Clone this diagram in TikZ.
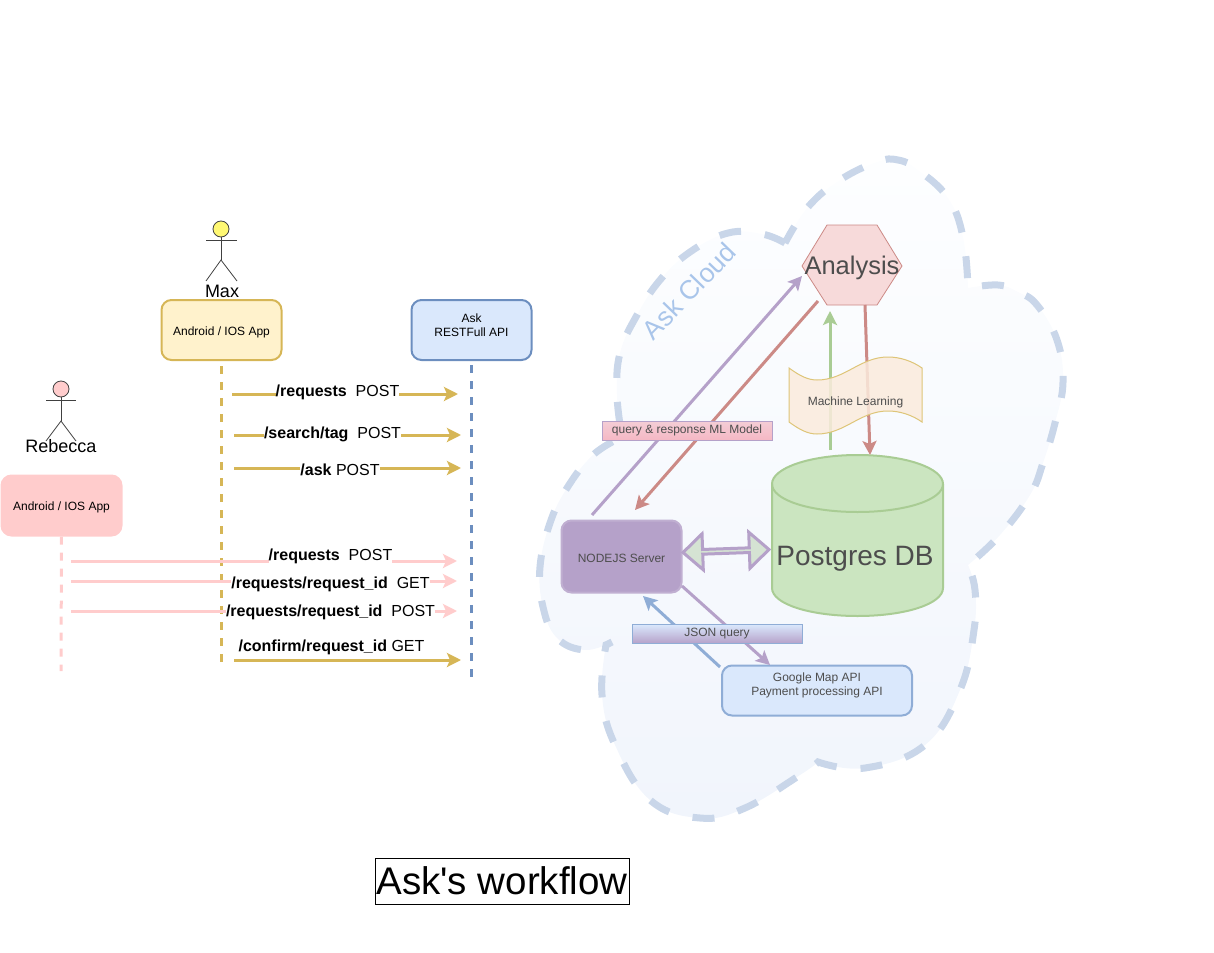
\documentclass[tikz,border=0pt]{standalone}
\usepackage{fontspec}
\setmainfont{Liberation Sans}
\usetikzlibrary{arrows.meta, shapes, positioning, calc}
\definecolor{goldline}{HTML}{D6B656}
\definecolor{goldfill}{HTML}{FFF2CC}
\definecolor{blueline}{HTML}{6C8EBF}
\definecolor{bluefill}{HTML}{DAE8FC}
\definecolor{pinkline}{HTML}{FFCCCC}
\definecolor{purpleline}{HTML}{B5A1C9}
\definecolor{redline}{HTML}{CC8A86}
\definecolor{greenline}{HTML}{A9CC94}
\definecolor{softblue}{HTML}{8FADD6}
\definecolor{cloudline}{HTML}{C9D6E9}
\definecolor{cloudtext}{HTML}{A9C5EA}
\definecolor{cloudtop}{HTML}{FDFEFF}
\definecolor{cloudbottom}{HTML}{F1F5FC}
\definecolor{greytext}{HTML}{4D4D4D}
\definecolor{dbfill}{HTML}{CBE5C0}
\definecolor{hexfill}{HTML}{F7DADA}
\definecolor{linkfill}{HTML}{D5E3D3}
\definecolor{wavefill}{HTML}{FBEBDC}
\definecolor{querytop}{HTML}{F4CDD6}
\definecolor{querybottom}{HTML}{F5B8C4}
\newcommand{\px}[1]{\fontsize{#1}{#1}\selectfont\setlength{\baselineskip}{1.17\baselineskip}}
\tikzset{
    appbox/.style={draw, rounded corners=10, line width=2, minimum width=120, minimum height=60, align=center, text height=13, font=\px{12}},
    lifeline/.style={line width=3, dash pattern=on 8 off 8},
    msg/.style={->, line width=3},
    msgtext/.style={fill=white, inner sep=0, font=\px{16}},
    flow/.style={->, line width=3},
    actor/.style={line width=0.8, draw=black!75},
    tag/.style={draw, line width=1, minimum width=170, minimum height=19, inner sep=0, font=\px{12}, text=greytext}
}
\begin{document}
\begin{tikzpicture}[x=1pt, y=-1pt, >={Stealth[length=14pt,width=14pt,inset=3pt]}]
    \useasboundingbox (0,0) rectangle (1214,952);

    % Draw the cloud behind everything
    \draw[line width=7, draw=cloudline, dash pattern=on 22 off 24, top color=cloudtop, bottom color=cloudbottom]
        plot[smooth, tension=0.7] coordinates {(785,243) (762,234) (728,233) (690,252) (660,280) (637,315) (620,353) (617,395) (622,437)}
        -- plot[smooth, tension=0.7] coordinates {(622,437) (593,455) (567,488) (550,523) (540,567) (543,607) (557,638) (585,650) (612,642)}
        -- plot[smooth, tension=0.7] coordinates {(606,645) (602,695) (615,745) (650,800) (700,818) (745,808) (800,775) (818,762)}
        -- plot[smooth, tension=0.7] coordinates {(818,762) (865,768) (925,745) (960,690) (974,630) (975,590) (968,565)}
        -- plot[smooth, tension=0.7] coordinates {(968,565) (1000,535) (1030,495) (1043,463) (1055,423) (1063,382) (1057,340) (1037,305) (1018,292) (998,285) (968,288)}
        -- plot[smooth, tension=0.7] coordinates {(968,288) (963,237) (948,198) (918,170) (898,160) (877,162) (840,180) (808,207) (785,243)}
        -- cycle;
    \node[rotate=46, text=cloudtext, font=\px{26.5}] (askcloud) at (689,291) {Ask Cloud};

    % Actors
    \node[circle, draw=black!75, line width=0.8, fill=yellow!55, minimum size=16, inner sep=0] (maxhead) at (221,229) {};
    \coordinate (maxhip) at (221,260);
    \coordinate (maxarml) at (206,240);
    \coordinate (maxarmr) at (237,240);
    \coordinate (maxfootl) at (206,281);
    \coordinate (maxfootr) at (237,281);
    \draw[actor] (maxhead) -- (maxhip);
    \draw[actor] (maxarml) -- (maxarmr);
    \draw[actor] (maxfootl) -- (maxhip) -- (maxfootr);
    \node[font=\px{18}, inner sep=0] (maxname) at (222,291) {Max};

    \node[circle, draw=black!75, line width=0.8, fill=pinkline, minimum size=16, inner sep=0] (rebeccahead) at (61,389) {};
    \coordinate (rebeccahip) at (61,421);
    \coordinate (rebeccaarml) at (46,400);
    \coordinate (rebeccaarmr) at (76,400);
    \coordinate (rebeccafootl) at (46,441);
    \coordinate (rebeccafootr) at (76,441);
    \draw[actor] (rebeccahead) -- (rebeccahip);
    \draw[actor] (rebeccaarml) -- (rebeccaarmr);
    \draw[actor] (rebeccafootl) -- (rebeccahip) -- (rebeccafootr);
    \node[font=\px{18}, inner sep=0] (rebeccaname) at (61,446) {Rebecca};

    % Draw the app boxes
    \node[appbox, draw=goldline, fill=goldfill] (maxapp) at (221.5,330) {Android / IOS App};
    \node[appbox, draw=blueline, fill=bluefill] (askapi) at (471.5,330) {Ask\\RESTFull API};
    \node[appbox, draw=pinkline, fill=pinkline] (rebeccaapp) at (61.5,505.5) {Android / IOS App};

    % Lifelines
    \coordinate (maxtop) at (221,366);
    \coordinate (maxend) at (221,666);
    \coordinate (apitop) at (471,365);
    \coordinate (apiend) at (471,681);
    \coordinate (rebeccaend) at (61,671);
    \draw[lifeline, draw=goldline] (maxtop) -- (maxend);
    \draw[lifeline, draw=blueline] (apitop) -- (apiend);
    \draw[lifeline, draw=pinkline] (rebeccaapp.south) -- (rebeccaend);

    % Messages
    \coordinate (reqa) at (232,394);   \coordinate (reqb) at (458,394);
    \coordinate (taga) at (234,435);   \coordinate (tagb) at (461,435);
    \coordinate (aska) at (234,468);   \coordinate (askb) at (461,468);
    \coordinate (confa) at (234,660);  \coordinate (confb) at (461,660);
    \coordinate (rreqa) at (71,561);   \coordinate (rreqb) at (457,561);
    \coordinate (rgeta) at (71,581);   \coordinate (rgetb) at (457,581);
    \coordinate (rposta) at (71,611);  \coordinate (rpostb) at (457,611);
    \draw[msg, draw=goldline] (reqa) -- (reqb);
    \draw[msg, draw=goldline] (taga) -- (tagb);
    \draw[msg, draw=goldline] (aska) -- (askb);
    \draw[msg, draw=goldline] (confa) -- (confb);
    \draw[msg, draw=pinkline] (rreqa) -- (rreqb);
    \draw[msg, draw=pinkline] (rgeta) -- (rgetb);
    \draw[msg, draw=pinkline] (rposta) -- (rpostb);

    \node[msgtext] (reqtext) at (337.5,392) {\textbf{/requests}\ \ POST};
    \node[msgtext] (tagtext) at (332.5,434) {\textbf{/search/tag}\ \ POST};
    \node[msgtext] (asktext) at (340,470) {\textbf{/ask} POST};
    \node[msgtext] (rreqtext) at (330.5,556) {\textbf{/requests}\ \ POST};
    \node[msgtext] (rgettext) at (330.5,584) {\textbf{/requests/request\_id}\ \ GET};
    \node[msgtext] (rposttext) at (330.5,612) {\textbf{/requests/request\_id}\ \ POST};
    \node[inner sep=0, font=\px{16}] (conftext) at (331.5,647) {\textbf{/confirm/request\_id} GET};

    % Cloud side nodes
    \node[appbox, draw=purpleline!85!white, fill=purpleline, minimum height=72, text=greytext] (nodejs) at (621.5,556.5) {NODEJS Server};
    \draw[draw=greenline, line width=2, fill=dbfill]
        (772,484) -- (772,588) .. controls (772,604) and (810,616) .. (857.5,616) .. controls (905,616) and (943,604) .. (943,588)
        -- (943,484) .. controls (943,468) and (905,455) .. (857.5,455) .. controls (810,455) and (772,468) .. (772,484) -- cycle;
    \draw[draw=greenline, line width=2]
        (772,484) .. controls (772,500) and (810,512) .. (857.5,512) .. controls (905,512) and (943,500) .. (943,484);
    \node[text=greytext, font=\px{28}, inner sep=0] (postgres) at (855,559) {Postgres DB};
    \node[appbox, draw=softblue, fill=bluefill, minimum width=190, minimum height=50, text=greytext] (google) at (817,690.5) {Google Map API\\Payment processing API};

    \coordinate (hexw) at (802,266);
    \coordinate (hexnw) at (827,225);
    \coordinate (hexne) at (877,225);
    \coordinate (hexe) at (902,266);
    \coordinate (hexse) at (877,305);
    \coordinate (hexsw) at (827,305);
    \draw[draw=redline, fill=hexfill, line width=0.8] (hexw) -- (hexnw) -- (hexne) -- (hexe) -- (hexse) -- (hexsw) -- cycle;
    \node[text=greytext, font=\px{25.5}, inner sep=0] (analysis) at (852,268) {Analysis};

    % Connectors
    \coordinate (nodeout) at (592,515);
    \coordinate (analysisin) at (802,276);
    \coordinate (analysisout) at (818,301);
    \coordinate (nodein) at (635,510);
    \coordinate (dbout) at (830,450);
    \coordinate (analysisinb) at (830,311);
    \coordinate (analysisoutb) at (865,305);
    \coordinate (dbin) at (870,455);
    \coordinate (nodeoutb) at (682,586);
    \coordinate (googlein) at (770,665);
    \coordinate (googleout) at (720,667);
    \coordinate (nodeinb) at (643,596);
    \draw[flow, draw=purpleline] (nodeout) -- (analysisin);
    \draw[flow, draw=redline] (analysisout) -- (nodein);
    \draw[flow, draw=greenline] (dbout) -- (analysisinb);
    \draw[flow, draw=redline] (analysisoutb) -- (dbin);
    \draw[flow, draw=purpleline] (nodeoutb) -- (googlein);
    \draw[flow, draw=softblue] (googleout) -- (nodeinb);

    \node[double arrow, double arrow head extend=10, double arrow tip angle=85, draw=purpleline, line width=3, fill=linkfill, minimum width=36, minimum height=86, inner sep=0, rotate=2] (dblink) at (726,551) {};

    % Wave on top of the arrows
    \draw[draw=goldline!80!white, line width=1, fill=wavefill, fill opacity=0.85]
        (789,368) .. controls (800,376) and (808,380) .. (817,380) .. controls (845,380) and (860,357) .. (888,357) .. controls (900,357) and (912,361) .. (922,368)
        -- (922,422) .. controls (912,415) and (900,411) .. (888,411) .. controls (860,411) and (845,434) .. (817,434) .. controls (808,434) and (800,430) .. (789,422) -- cycle;
    \node[text=greytext, font=\px{12}, inner sep=0] (mltext) at (855.5,402) {Machine Learning};

    % Labels on the arrows
    \node[tag, draw=purpleline, top color=querytop, bottom color=querybottom] (querytag) at (687,430.5) {query \& response ML Model};
    \node[tag, draw=softblue, top color=bluefill, bottom color=purpleline] (jsontag) at (717,634) {JSON query};

    % Title
    \node[draw=black, line width=0.8, minimum width=254, minimum height=46, inner sep=0, font=\px{38.5}] (title) at (502,881) {Ask\textquotesingle s workflow};
\end{tikzpicture}
\end{document}
